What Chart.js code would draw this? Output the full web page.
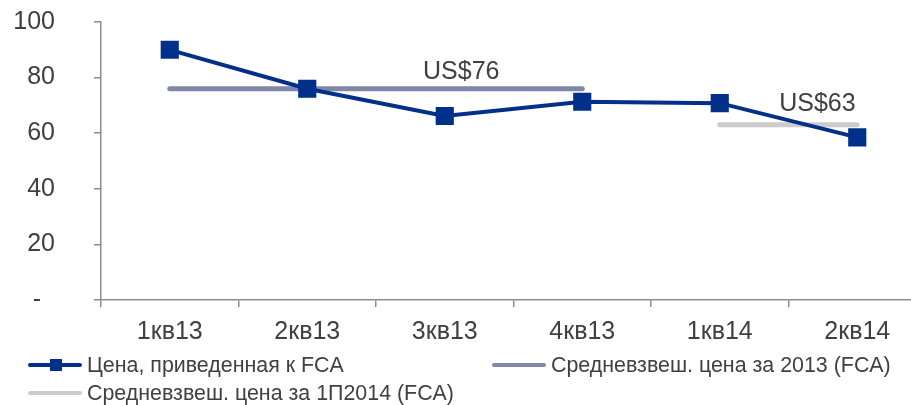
<!DOCTYPE html>
<html>
<head>
<meta charset="utf-8">
<script src="https://cdn.jsdelivr.net/npm/chart.js@4"></script>
<style>
  html, body { margin: 0; padding: 0; background: #fff; overflow: hidden; width: 911px; height: 405px; }
  #wrap { position: absolute; left: 0; top: 0; width: 940px; height: 345px; }
  #graphique { width: 940px; height: 345px; }
  #legende { position: absolute; left: 0; top: 0; width: 911px; height: 405px; pointer-events: none;
    font-family: "Liberation Sans", Arial, sans-serif; font-size: 21.4px; color: #404040; }
  .item { position: absolute; display: flex; align-items: center; white-space: nowrap; height: 24px; }
  .marque { position: relative; width: 54px; height: 14px; margin-right: 5px; }
  .marque .trait { position: absolute; left: 0; right: 0; top: 5px; height: 4px; border-radius: 2px; }
  .marque .carre { position: absolute; left: 22px; top: 1px; width: 12px; height: 12px; }
</style>
</head>
<body>
<div id="wrap"><canvas id="graphique" width="940" height="345"></canvas></div>
<div id="legende"></div>
<script>
// Données
const categories = ['1кв13', '2кв13', '3кв13', '4кв13', '1кв14', '2кв14'];
const prixFCA = [90, 76, 66.2, 71.3, 70.8, 58.5];
const moyenne2013 = [76, 76, 76, 76, null, null];
const moyenne2014 = [null, null, null, null, 63, 63];
const nomsSeries = ['Цена, приведенная к FCA', 'Средневзвеш. цена за 2013 (FCA)', 'Средневзвеш. цена за 1П2014 (FCA)'];
const couleurs = ['#00308a', '#8088aa', '#cccccc'];
const ticksY = [0, 20, 40, 60, 80, 100];

// étiquettes "US$" : position en index de catégorie + décalage vertical
const etiquettes = [
    { texte: 'US$76', index: 2.12, valeur: 76, dy: -17 },
    { texte: 'US$63', index: 4.71, valeur: 63, dy: -21 }
];

const couleurTexte = '#404040';
const couleurAxe = '#8c8c8c';
const police = '"Liberation Sans", Arial, sans-serif';

const pluginEtiquettes = {
    id: 'etiquettes',
    afterDatasetsDraw(chart) {
        const ctx = chart.ctx;
        const x = chart.scales.x, y = chart.scales.y;
        ctx.save();
        ctx.font = '25px ' + police;
        ctx.fillStyle = couleurTexte;
        ctx.textAlign = 'center';
        ctx.textBaseline = 'middle';
        etiquettes.forEach(e => {
            ctx.fillText(e.texte, x.getPixelForValue(e.index), y.getPixelForValue(e.valeur) + e.dy);
        });
        ctx.restore();
    }
};

const ctx = document.getElementById('graphique').getContext('2d');
new Chart(ctx, {
    type: 'line',
    data: {
        labels: categories,
        datasets: [{
            label: nomsSeries[0],
            data: prixFCA,
            borderColor: couleurs[0],
            backgroundColor: couleurs[0],
            borderWidth: 4,
            pointStyle: 'rect',
            pointRadius: 10,
            pointHoverRadius: 10,
            tension: 0,
            order: 0
        }, {
            label: nomsSeries[1],
            data: moyenne2013,
            borderColor: couleurs[1],
            borderWidth: 5,
            borderCapStyle: 'round',
            pointRadius: 0,
            spanGaps: false,
            order: 1
        }, {
            label: nomsSeries[2],
            data: moyenne2014,
            borderColor: couleurs[2],
            borderWidth: 5,
            borderCapStyle: 'round',
            pointRadius: 0,
            spanGaps: false,
            order: 2
        }]
    },
    options: {
        responsive: false,
        animation: false,
        layout: { padding: { top: 22, right: 0, left: 0, bottom: 0 } },
        plugins: {
            legend: { display: false },
            tooltip: { enabled: false }
        },
        scales: {
            x: {
                offset: true,
                grid: { offset: true, drawOnChartArea: false, drawTicks: true, tickLength: 7, color: couleurAxe, lineWidth: 1.5 },
                border: { color: couleurAxe, width: 1.5 },
                ticks: { color: couleurTexte, font: { family: police, size: 25 }, padding: 10, maxRotation: 0, autoSkip: false },
                afterFit(scale) {
                    scale.height = 45;
                    scale.paddingLeft = 0;
                    scale.paddingRight = 0;
                }
            },
            y: {
                min: 0,
                max: 100,
                afterBuildTicks(scale) { scale.ticks = ticksY.map(v => ({ value: v })); },
                grid: { drawOnChartArea: false, drawTicks: true, tickLength: 7, color: couleurAxe, lineWidth: 1.5 },
                border: { color: couleurAxe, width: 1.5 },
                ticks: {
                    color: couleurTexte,
                    font: { family: police, size: 25 },
                    padding: 39,
                    callback: v => v === 0 ? '-  ' : v
                },
                afterFit(scale) {
                    scale.width = 101;
                    scale.paddingTop = 0;
                    scale.paddingBottom = 0;
                }
            }
        }
    },
    plugins: [pluginEtiquettes]
});

// Légende en HTML, disposée comme sur l'original
const positions = [[28, 365], [492, 365], [28, 393]];
const legende = document.getElementById('legende');
nomsSeries.forEach((nom, i) => {
    const carre = i === 0 ? `<div class="carre" style="background:${couleurs[i]}"></div>` : '';
    legende.insertAdjacentHTML('beforeend',
        `<div class="item" style="left:${positions[i][0]}px;top:${positions[i][1] - 12}px">
            <div class="marque"><div class="trait" style="background:${couleurs[i]}"></div>${carre}</div>
            <span>${nom}</span>
        </div>`);
});
</script>
</body>
</html>
